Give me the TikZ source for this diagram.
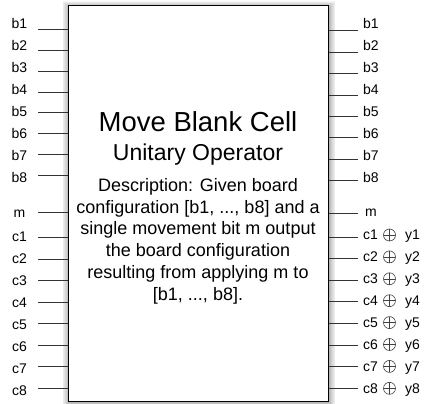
\documentclass[tikz,border=0pt]{standalone}
\usepackage{fontspec}
\setmainfont{Liberation Sans}
\begin{document}
\begin{tikzpicture}[x=1pt,y=-1pt,
  wire/.style={draw=black!80, line width=0.9pt},
  lab/.style={font=\fontsize{14}{15}\selectfont, inner sep=0pt, text height=10pt, text depth=0pt, anchor=center},
  mainbox/.style={draw=black, line width=1pt, fill=white, minimum width=260pt, minimum height=395pt, inner sep=0pt},
  titletext/.style={font=\fontsize{27.5}{30}\selectfont, inner sep=0pt, anchor=base},
  subtext/.style={font=\fontsize{23}{26}\selectfont, inner sep=0pt, anchor=base},
  desctext/.style={font=\fontsize{18}{20}\selectfont, inner sep=0pt, anchor=base},
  xorsym/.style={circle, draw=black!75, line width=0.6pt, minimum size=12pt, inner sep=0pt,
    path picture={\draw[black!75, line width=0.6pt]
      (path picture bounding box.north) -- (path picture bounding box.south)
      (path picture bounding box.west) -- (path picture bounding box.east);}}
]
\useasboundingbox (0,0) rectangle (432,404);
% soft shadow
\foreach \k in {1,...,8}
  \fill[black, opacity=0.04] ({68-0.8*\k+1},{6-0.8*\k+1.5}) rectangle ({328+0.8*\k+1},{401+0.8*\k+1.5});
\node[mainbox] (box) at (198,203.5) {};
% texts
\node[titletext] (title) at (198,131.7) {Move Blank Cell};
\node[subtext] (subtitle) at (198,160.5) {Unitary Operator};
\node[desctext] (d1) at (198,191.5) {Description: Given board};
\node[desctext] (d2) at (198,213.2) {configuration [b1, ..., b8] and a};
\node[desctext] (d3) at (198,234.9) {single movement bit m output};
\node[desctext] (d4) at (198,256.6) {the board configuration};
\node[desctext] (d5) at (198,278.3) {resulting from applying m to};
\node[desctext] (d6) at (198,300.0) {[b1, ..., b8].};
% b rows
\foreach \i in {1,...,8}{
  \coordinate (LSb\i) at (38,{29.3+20.9*(\i-1)});
  \draw[wire] (LSb\i) -- (LSb\i -| box.west);
  \node[lab] (Lb\i) at (19.5,{23.3+21.96*(\i-1)}) {b\i};
  \coordinate (REb\i) at (358,{30.7+21.43*(\i-1)});
  \draw[wire] (REb\i -| box.east) -- (REb\i);
  \node[lab] (Rb\i) at (371,{23.3+21.96*(\i-1)}) {b\i};
}
% m row
\coordinate (LSm) at (38,212);
\draw[wire] (LSm) -- (LSm -| box.west);
\node[lab] (Lm) at (19.5,213) {m};
\coordinate (REm) at (358,213);
\draw[wire] (REm -| box.east) -- (REm);
\node[lab] (Rm) at (371,212) {m};
% c rows
\foreach \i in {1,...,8}{
  \coordinate (LSc\i) at (38,{237.7+21.5*(\i-1)});
  \draw[wire] (LSc\i) -- (LSc\i -| box.west);
  \node[lab] (Lc\i) at (19.5,{236+22*(\i-1)}) {c\i};
  \coordinate (REc\i) at (358,{237+21.6*(\i-1)});
  \draw[wire] (REc\i -| box.east) -- (REc\i);
  \node[lab] (Rc\i) at (370.5,{235+21.9*(\i-1)}) {c\i};
  \node[xorsym] (X\i) at (389.5,{235+21.9*(\i-1)}) {};
  \node[lab] (Y\i) at (412.5,{235+21.9*(\i-1)}) {y\i};
}
\end{tikzpicture}
\end{document}
